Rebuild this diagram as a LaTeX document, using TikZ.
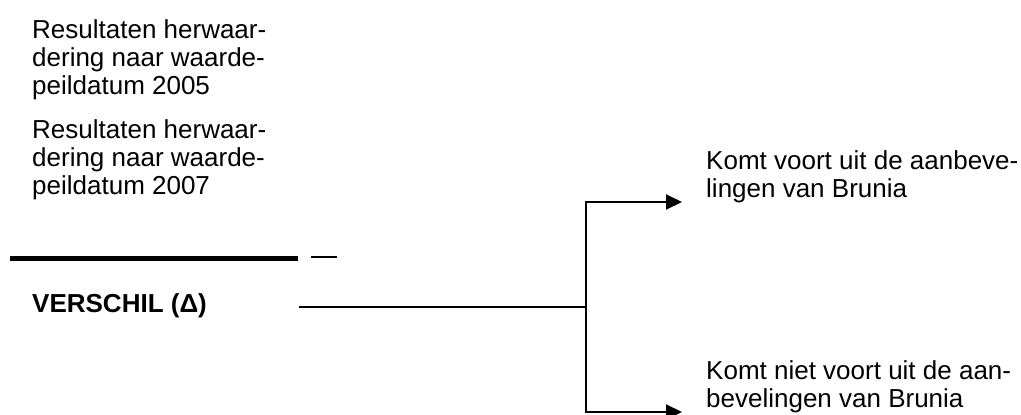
\documentclass[tikz,border=0pt]{standalone}
\usepackage{fontspec}
\setmainfont{Liberation Sans}
\usetikzlibrary{arrows.meta}
\begin{document}
\begin{tikzpicture}[x=1pt,y=-1pt,
  lbl/.style={inner sep=0pt, align=left, anchor=base west, font=\fontsize{26}{28}\selectfont},
  boldlbl/.style={lbl, font=\fontsize{26}{28}\selectfont\bfseries},
  conn/.style={line width=2pt},
  thickrule/.style={line width=4.5pt},
  minusrule/.style={line width=1.5pt},
  arr/.style={conn, -{Triangle[length=16pt,width=15pt]}, shorten >=24pt}]
\useasboundingbox (0,0) rectangle (1021,415);
% base anchor of a multi-line node = baseline of its last line
\node[lbl] (r05) at (32,94) {Resultaten herwaar-\\dering naar waarde-\\peildatum 2005};
\node[lbl] (r07) at (32,194) {Resultaten herwaar-\\dering naar waarde-\\peildatum 2007};
\coordinate (t1) at (10,258.5);
\coordinate (t2) at (298,258.5);
\draw[thickrule] (t1) -- (t2);
\coordinate (m1) at (311,257);
\coordinate (m2) at (337,257);
\draw[minusrule] (m1) -- (m2);
\node[boldlbl] (verschil) at (32,312) {VERSCHIL (Δ)};
\coordinate (vs) at (299,307);
\coordinate (split) at (586,307);
\coordinate (top) at (586,202);
\coordinate (bot) at (586,412);
\node[lbl] (brunia) at (706,197) {Komt voort uit de aanbeve-\\lingen van Brunia};
\node[lbl] (nbrunia) at (706,407) {Komt niet voort uit de aan-\\bevelingen van Brunia};
\draw[conn] (vs) -- (split);
\draw[arr] (split) |- (top -| brunia.west);
\draw[arr] (split) |- (bot -| nbrunia.west);
\end{tikzpicture}
\end{document}
